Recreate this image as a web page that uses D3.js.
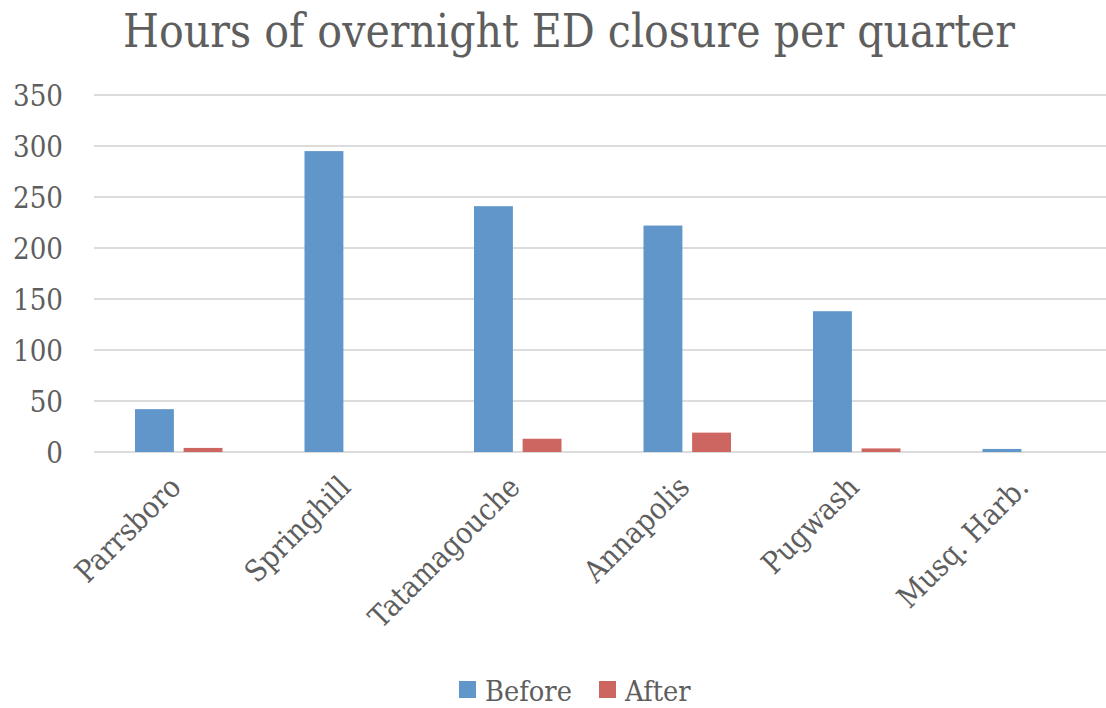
<!DOCTYPE html>
<html><head><meta charset="utf-8">
<script src="https://cdn.jsdelivr.net/npm/d3@7"></script>
<style>body{margin:0;background:#fff;}svg{display:block;}</style>
</head><body>
<svg id="c" width="1106" height="708"></svg>
<script>
const categories = ["Parrsboro","Springhill","Tatamagouche","Annapolis","Pugwash","Musq. Harb."];
const seriesNames = ["Before","After"];
const before = [42, 295, 241, 222, 138, 3];
const after = [4, 0, 13, 19, 3.5, 0];
const yTicks = [0,50,100,150,200,250,300,350];
const titleText = "Hours of overnight ED closure per quarter";
const colors = {Before:"#6096C9", After:"#CD6660"};

const FONT = "'DejaVu Serif Condensed', 'DejaVu Serif', serif";
const TXT = "#5E5E5E";
const svg = d3.select("#c");
const plotTop = 95, plotBottom = 452, plotLeft = 94, plotRight = 1111;

// font size so that a sample string has a target width
function fitSize(sample, target) {
  const tmp = svg.append("text").attr("font-family", FONT).attr("font-size", 100).text(sample);
  const w = tmp.node().getComputedTextLength();
  tmp.remove();
  return 100 * target / w;
}
const labelSize = fitSize("Tatamagouche", 199);
const tickSize = fitSize("350", 50);
const legSize = fitSize("Before", 87);
const titleSize = fitSize(titleText, 892);

const y = d3.scaleLinear().domain([0,350]).range([plotBottom, plotTop]);
const x0 = d3.scaleBand().domain(categories).range([plotLeft, plotRight]).padding(0);
const inner = 41;
const x1 = d3.scaleBand().domain(seriesNames).range([inner, x0.step()-inner]).paddingInner(0.2);

// gridlines
svg.append("g").selectAll("line").data(yTicks).join("line")
  .attr("x1", plotLeft).attr("x2", 1106)
  .attr("y1", d=>y(d)).attr("y2", d=>y(d))
  .attr("stroke", "#DCDCDC").attr("stroke-width", 2);

// y labels
const yAxis = d3.axisLeft(y).tickValues(yTicks).tickSize(0).tickPadding(0);
const ya = svg.append("g").attr("transform", `translate(63,0)`).call(yAxis);
ya.select(".domain").remove();
ya.selectAll("text").attr("font-family", FONT).attr("font-size", tickSize).attr("fill", TXT).attr("dy", "0.35em");

// bars
const data = categories.map((c,i)=>({c, vals:[{s:"Before",v:before[i]},{s:"After",v:after[i]}]}));
const g = svg.append("g").selectAll("g").data(data).join("g")
  .attr("transform", d=>`translate(${x0(d.c)},0)`);
g.selectAll("rect").data(d=>d.vals.filter(e=>e.v>0)).join("rect")
  .attr("x", d=>x1(d.s)).attr("width", x1.bandwidth())
  .attr("y", d=>y(d.v)).attr("height", d=>y(0)-y(d.v))
  .attr("fill", d=>colors[d.s]);

// x labels
svg.append("g").selectAll("text").data(categories).join("text")
  .attr("transform", d=>`translate(${x0(d)+x0.bandwidth()/2+4},${489}) rotate(-45)`)
  .attr("text-anchor","end")
  .attr("font-family", FONT).attr("font-size", labelSize).attr("fill", TXT)
  .text(d=>d);

// title
svg.append("text").attr("x", 569).attr("y", 47)
  .attr("text-anchor","middle").attr("font-family", FONT).attr("font-size", titleSize)
  .attr("fill", TXT).text(titleText);

// legend
const leg = svg.append("g");
const legItems = [{s:"Before", x:459},{s:"After", x:599}];
legItems.forEach(it=>{
  leg.append("rect").attr("x", it.x).attr("y", 681).attr("width", 17).attr("height", 17).attr("fill", colors[it.s]);
  leg.append("text").attr("x", it.x+26).attr("y", 701).attr("font-family", FONT).attr("font-size", legSize)
    .attr("fill", TXT).text(it.s);
});
</script>
</body></html>
